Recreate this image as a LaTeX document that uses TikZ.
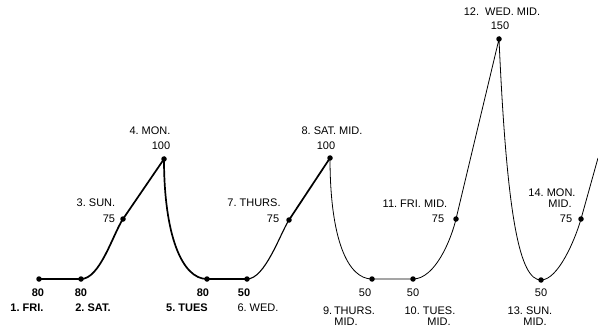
\documentclass[tikz,border=0pt]{standalone}
\usepackage{fontspec}
\setmainfont{Liberation Sans}
\begin{document}
\begin{tikzpicture}[x=1pt,y=-1pt,
  dot/.style={circle,fill=black,inner sep=0pt,minimum size=5.5pt},
  lbl/.style={inner sep=0pt,font=\fontsize{11}{11.5}\selectfont,align=center},
  blbl/.style={lbl,font=\fontsize{11}{11.5}\selectfont\bfseries},
  heavy/.style={line width=1.7pt},
  light/.style={line width=0.8pt}]
\useasboundingbox (0,0) rectangle (598,329);
% points
\node[dot] (p1) at (39,279) {};
\node[dot] (p2) at (81,279) {};
\node[dot] (p3) at (123,219) {};
\node[dot] (p4) at (164,159) {};
\node[dot] (p5) at (207,279) {};
\node[dot] (p6) at (247,279) {};
\node[dot] (p7) at (289,220) {};
\node[dot] (p8) at (330,158) {};
\node[dot] (p9) at (372,279) {};
\node[dot] (p10) at (413,279) {};
\node[dot] (p11) at (456,219) {};
\node[dot] (p12) at (499,39) {};
\node[dot] (p13) at (541,280) {};
\node[dot] (p14) at (581,219) {};
\coordinate (pe) at (598,158);
% curve
\draw[heavy] (p1.center) -- (p2.center)
  .. controls (100,279) and (113,234) .. (p3.center) -- (p4.center)
  .. controls (164,235) and (182,279) .. (p5.center) -- (p6.center);
\draw[line width=1.1pt] (p6.center) .. controls (265,279) and (280,234) .. (p7.center);
\draw[heavy] (p7.center) -- (p8.center);
\draw[light] (p8.center) .. controls (330,240) and (348,279) .. (p9.center) -- (p10.center)
  .. controls (435,279) and (451,240) .. (p11.center) -- (p12.center)
  .. controls (507,220) and (520,280) .. (p13.center)
  .. controls (558,280) and (575,240) .. (p14.center) -- (pe);
% labels
\node[blbl] (v1) at (38,293) {80};
\node[blbl] (n1) at (27,308) {1.\ FRI.};
\node[blbl] (v2) at (81,293) {80};
\node[blbl] (n2) at (93,308) {2.\ SAT.};
\node[lbl] (n3) at (96,203) {3.\ SUN.};
\node[lbl] (v3) at (109,219) {75};
\node[lbl] (n4) at (150,131) {4.\ MON.};
\node[lbl] (v4) at (161,146) {100};
\node[blbl] (v5) at (203,293) {80};
\node[blbl] (n5) at (187,308) {5.\ TUES};
\node[blbl] (v6) at (244,293) {50};
\node[lbl] (n6) at (258,308) {6.\ WED.};
\node[lbl] (n7) at (254,203) {7.\ THURS.};
\node[lbl] (v7) at (273,219) {75};
\node[lbl] (n8) at (332,131) {8.\ SAT.\ MID.};
\node[lbl] (v8) at (326,146) {100};
\node[lbl] (v9) at (365,293) {50};
\node[lbl] (n9) at (349,316) {9.\,THURS.\\[0pt]\hspace*{-6pt}MID.};
\node[lbl] (v10) at (413,293) {50};
\node[lbl] (n10) at (430,316) {10.\ TUES.\\[0pt]\hspace*{18pt}MID.};
\node[lbl] (n11) at (415,204) {11.\ FRI.\ MID.};
\node[lbl] (v11) at (438,219) {75};
\node[lbl] (n12) at (502,12) {12.\ \ WED.\ MID.};
\node[lbl] (v12) at (500,26) {150};
\node[lbl] (v13) at (541,293) {50};
\node[lbl] (n13) at (530,316) {13.\ SUN.\\[0pt]\hspace*{10pt}MID.};
\node[lbl] (n14) at (552,193) {14.\ MON.};
\node[lbl] (m14) at (560,204) {MID.};
\node[lbl] (v14) at (566,219) {75};
\end{tikzpicture}
\end{document}
